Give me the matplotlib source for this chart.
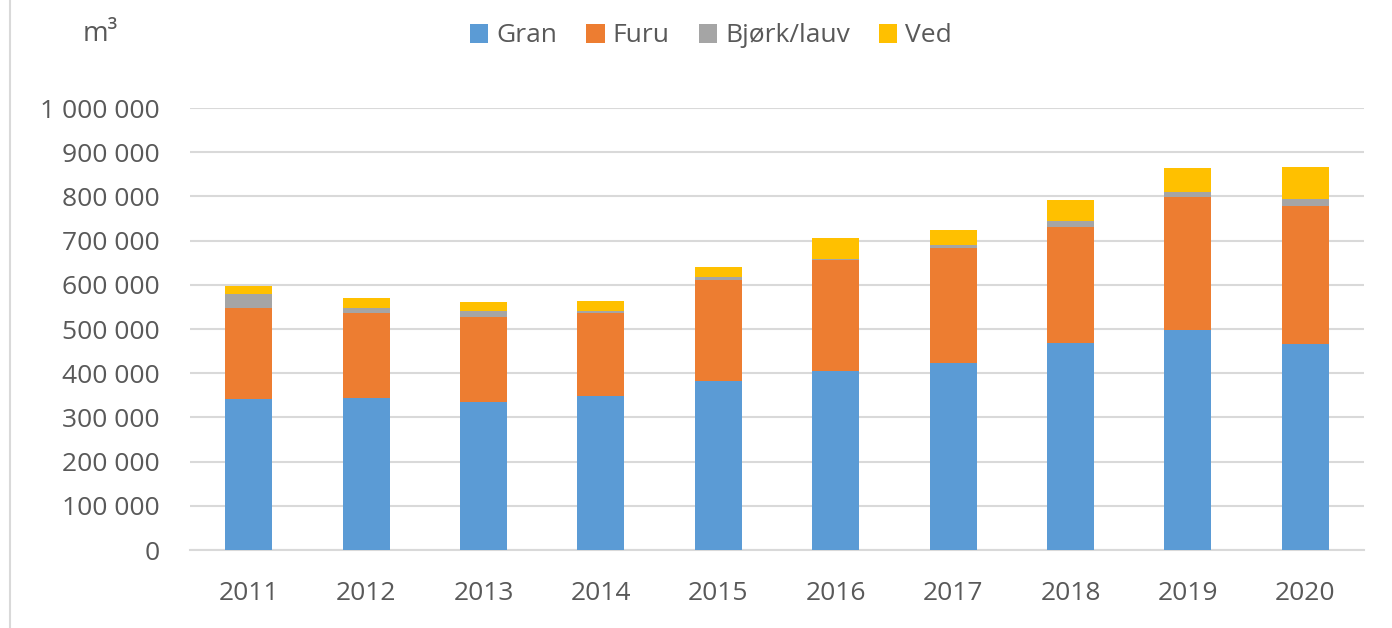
import numpy as np
from matplotlib import pyplot as plt
from matplotlib.ticker import FuncFormatter
from matplotlib.lines import Line2D

'''Data read from the chart'''
years = ['2011', '2012', '2013', '2014', '2015', '2016', '2017', '2018', '2019', '2020']
gran = [342000, 345000, 334000, 349000, 382000, 406000, 422000, 468000, 498000, 465000]
furu = [206000, 192000, 194000, 188000, 229000, 249000, 261000, 262000, 300000, 313000]
bjork = [31000, 11000, 12000, 4000, 6000, 3000, 6000, 15000, 11000, 15000]
ved = [19000, 23000, 22000, 22000, 24000, 47000, 35000, 47000, 55000, 74000]

series_names = ['Gran', 'Furu', 'Bjørk/lauv', 'Ved']
colors = ['#5B9BD5', '#ED7D31', '#A5A5A5', '#FFC000']
text_col = '#595959'

plt.rcParams['font.family'] = ['Open Sans', 'DejaVu Sans']

fig = plt.figure(figsize=(13.92, 6.28), dpi=100)
ax = fig.add_axes([190/1392, 1 - 550/628, 1174/1392, 442/628])

x = np.arange(len(years))
bottom = np.zeros(len(years))
for vals, name, c in zip([gran, furu, bjork, ved], series_names, colors):
    ax.bar(x, vals, width=0.4, bottom=bottom, color=c, label=name, zorder=3)
    bottom += np.array(vals)

ax.set_xlim(-0.5, len(years) - 0.5)
ax.set_ylim(0, 1000000)
ax.set_yticks(np.arange(0, 1000001, 100000))
ax.yaxis.set_major_formatter(FuncFormatter(lambda v, p: '{:,.0f}'.format(v).replace(',', ' ')))
ax.set_xticks(x)
ax.set_xticklabels(years)
ax.grid(axis='y', color='#D9D9D9', linewidth=1.5, zorder=0)
for s in ['top', 'right', 'left']:
    ax.spines[s].set_visible(False)
ax.spines['bottom'].set_color('#D9D9D9')
ax.spines['bottom'].set_linewidth(1.5)
ax.tick_params(axis='both', length=0, labelsize=19, colors=text_col)
ax.tick_params(axis='y', pad=22)
ax.tick_params(axis='x', pad=22)

ax.legend(loc='center', bbox_to_anchor=(711/1392, 1 - 36/628), bbox_transform=fig.transFigure,
          ncol=4, frameon=False, fontsize=19, labelcolor=text_col, handlelength=0.7,
          handleheight=0.7, handletextpad=0.3, columnspacing=1.1)

fig.text(100/1392, 1 - 34/628, 'm³', fontsize=20, color=text_col, ha='center', va='center')

# left border of the chart frame
fig.add_artist(Line2D([10/1392, 10/1392], [0, 1], color='#D9D9D9', linewidth=1.5))

fig.savefig('out.png', dpi=100, facecolor='white')
